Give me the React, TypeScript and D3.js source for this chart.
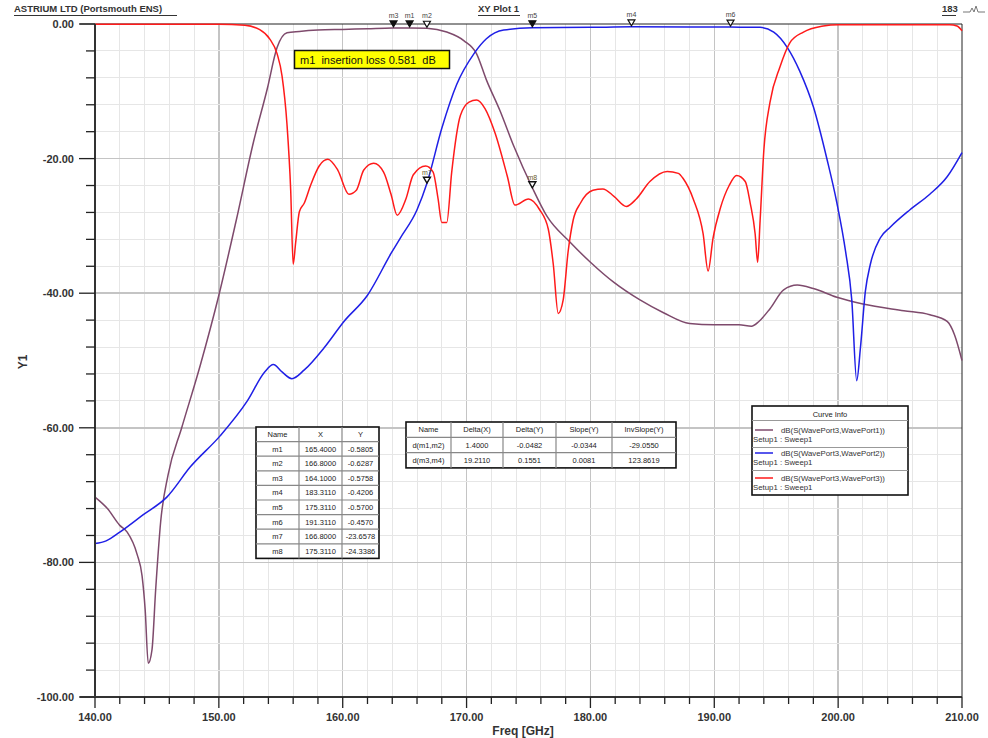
import React, { useEffect, useRef } from 'react';
import * as d3 from 'd3';

type Pt = [number, number];

// dB(S(WavePort3,WavePort1)) - purple
const S31_DB: Pt[] = [
  [140, -70.3], [141, -72], [142, -74.5], [142.6, -75.5], [143.4, -78.8], [143.8, -82], [144.05, -87],
  [144.3, -95], [144.6, -93], [144.9, -84], [145.3, -74], [145.9, -67], [147, -60], [148.5, -50.7],
  [150, -40.3], [151.4, -29.2], [152.8, -17.5], [153.9, -9.7], [154.7, -3.5], [155.5, -1.3],
  [156.5, -1.1], [158, -0.9], [160, -0.8], [162, -0.7], [164, -0.6], [165.4, -0.58], [166.8, -0.63],
  [168.4, -1.2], [169.8, -2.5], [170.8, -4.4], [171.6, -8.3], [172.7, -12.9], [173.8, -18.1],
  [175.3, -24.3], [176.5, -28.6], [178.4, -32.5], [180, -35.4], [181.9, -38.4], [184, -41],
  [185.9, -42.9], [188, -44.5], [190, -44.7], [192, -44.7], [193, -44.9], [193.6, -44.2],
  [194.5, -42.3], [195.6, -39.5], [196.7, -38.8], [198, -39.3], [199.9, -40.6], [202, -41.6],
  [205.3, -42.6], [207.4, -43.2], [208.8, -44.2], [209.4, -46.2], [210, -50],
];

// dB(S(WavePort3,WavePort2)) - blue
const S32_DB: Pt[] = [
  [140, -77.2], [140.9, -76.8], [142, -75.5], [143.9, -72.9], [145.8, -70.3], [147.7, -65.8],
  [150.1, -61.2], [152.3, -56], [153.7, -51.7], [154.4, -50.6], [155.1, -51.7], [155.9, -52.7],
  [156.9, -51.4], [158.5, -48.1], [160.1, -44.2], [162, -40.3], [163.9, -34.1], [164.65, -31.8],
  [166, -27.6], [166.8, -23.66], [168, -15.5], [169.2, -9], [170.6, -4.4], [171.6, -2.2], [173, -0.9],
  [175.3, -0.57], [180, -0.5], [183.3, -0.42], [188, -0.45], [191.3, -0.46], [193.7, -0.5],
  [194.8, -1.2], [195.9, -3.5], [196.9, -7], [198, -12.3], [199.1, -20.1], [199.9, -26.6],
  [200.6, -33.8], [201.1, -41], [201.5, -53], [201.8, -48.1], [202.2, -39.7], [202.6, -35.7],
  [203.4, -31.8], [204.2, -30.2], [205.8, -27.6], [207.4, -25.3], [208.8, -22.7], [210, -19.1],
];

// dB(S(WavePort3,WavePort3)) - red
const S33_DB: Pt[] = [
  [140, -0.05], [150, -0.05], [152.1, -0.2], [153.3, -0.85], [154.1, -2.2], [154.7, -4.4],
  [155.1, -7.7], [155.5, -14.9], [155.8, -24.7], [156, -35.7], [156.2, -32.5], [156.5, -27.9],
  [156.9, -26.6], [157.4, -24], [158.1, -21.1], [158.8, -20.1], [159.6, -21.7], [160.5, -25.3],
  [161.1, -24.7], [161.7, -21.7], [162.5, -20.7], [163.3, -22], [163.9, -25.3], [164.4, -28.4],
  [165.1, -26], [165.7, -22.4], [166.7, -21.1], [167.3, -22], [167.7, -26], [168, -29.5],
  [168.4, -29.5], [168.8, -22], [169.5, -13.6], [170.2, -11.6], [170.8, -11.3], [171.5, -12.6],
  [172.3, -16.2], [173.3, -22.7], [173.9, -26.9], [175, -26], [175.9, -27.6], [176.6, -30.5],
  [177, -35.7], [177.4, -43], [177.8, -41], [178.2, -33.8], [178.6, -29.2], [179.2, -26.6],
  [180.2, -24.7], [181, -24.5], [181.9, -25.6], [182.9, -27.1], [183.7, -26], [184.8, -23.4],
  [186.2, -21.9], [187.1, -22.2], [187.5, -23], [188.3, -26], [189.1, -31.2], [189.5, -36.7],
  [189.9, -31.8], [190.5, -27.3], [191.2, -24], [191.8, -22.5], [192.5, -23.4], [192.9, -26.6],
  [193.3, -31.2], [193.5, -35.4], [193.7, -29.2], [194, -18.8], [194.5, -11.6], [195.3, -6.4],
  [196.1, -2.8], [197.2, -1.2], [198.8, -0.3], [200, -0.1], [209, -0.1], [209.6, -0.3], [210, -1],
];

const CURVE_NAMES = ['dB(S(WavePort3,WavePort1))', 'dB(S(WavePort3,WavePort2))', 'dB(S(WavePort3,WavePort3))'];
const CURVE_COLORS = ['#7e4a6c', '#1f1fe6', '#ff1a1a'];
const CURVE_DATA = [S31_DB, S32_DB, S33_DB];

const TOP_MARKERS = [
  { name: 'm3', freq: 164.1, db: -0.5758, filled: true },
  { name: 'm1', freq: 165.4, db: -0.5805, filled: true },
  { name: 'm2', freq: 166.8, db: -0.6287, filled: false },
  { name: 'm5', freq: 175.311, db: -0.57, filled: true },
  { name: 'm4', freq: 183.311, db: -0.4206, filled: false },
  { name: 'm6', freq: 191.311, db: -0.457, filled: false },
];
const TRACE_MARKERS = [
  { name: 'm7', freq: 166.8, db: -23.6578 },
  { name: 'm8', freq: 175.311, db: -24.3386 },
];

const MARKER_HEAD = ['Name', 'X', 'Y'];
const MARKER_ROWS = [
  ['m1', '165.4000', '-0.5805'],
  ['m2', '166.8000', '-0.6287'],
  ['m3', '164.1000', '-0.5758'],
  ['m4', '183.3110', '-0.4206'],
  ['m5', '175.3110', '-0.5700'],
  ['m6', '191.3110', '-0.4570'],
  ['m7', '166.8000', '-23.6578'],
  ['m8', '175.3110', '-24.3386'],
];
const DELTA_HEAD = ['Name', 'Delta(X)', 'Delta(Y)', 'Slope(Y)', 'InvSlope(Y)'];
const DELTA_ROWS = [
  ['d(m1,m2)', '1.4000', '-0.0482', '-0.0344', '-29.0550'],
  ['d(m3,m4)', '19.2110', '0.1551', '0.0081', '123.8619'],
];

const W = 988;
const H = 738;
const FONT = '"Liberation Sans", Arial, sans-serif';

type Sel = d3.Selection<SVGGElement, unknown, null, undefined>;

function drawTable(g: Sel, x0: number, y0: number, cols: number[], rowH: number, rows: string[][]) {
  const t = g.append('g');
  const total = d3.sum(cols);
  const xs = [x0, ...d3.cumsum(cols).map(c => x0 + c)];
  t.append('rect').attr('x', x0).attr('y', y0).attr('width', total).attr('height', rowH * rows.length)
    .attr('fill', '#fff').attr('stroke', '#111').attr('stroke-width', 1.6);
  rows.forEach((row, i) => {
    if (i > 0) {
      t.append('line').attr('x1', x0).attr('x2', x0 + total).attr('y1', y0 + i * rowH).attr('y2', y0 + i * rowH)
        .attr('stroke', '#888').attr('stroke-width', 1.2);
    }
    row.forEach((cell, j) => {
      t.append('text').attr('x', (xs[j] + xs[j + 1]) / 2).attr('y', y0 + i * rowH + rowH / 2 + 2.6)
        .attr('text-anchor', 'middle').attr('font-size', 7.5).attr('fill', '#222').text(cell);
    });
  });
  xs.slice(1, -1).forEach(xx => {
    t.append('line').attr('x1', xx).attr('x2', xx).attr('y1', y0).attr('y2', y0 + rowH * rows.length)
      .attr('stroke', '#888').attr('stroke-width', 1.2);
  });
}

export default function App() {
  const svgRef = useRef<SVGSVGElement | null>(null);

  useEffect(() => {
    if (!svgRef.current) return;
    const svg = d3.select(svgRef.current);
    svg.selectAll('*').remove();

    const x = d3.scaleLinear().domain([140, 210]).range([95, 962]);
    const y = d3.scaleLinear().domain([-100, 0]).range([697, 24]);

    const g = svg.append('g').attr('font-family', FONT);

    // grid
    const grid = g.append('g').attr('shape-rendering', 'crispEdges');
    d3.range(142, 210, 2).forEach(f => {
      grid.append('line').attr('x1', x(f)).attr('x2', x(f)).attr('y1', y(0)).attr('y2', y(-100))
        .attr('stroke', f % 10 === 0 ? '#c4c4c4' : '#e6e6e6').attr('stroke-width', f % 10 === 0 ? 1.5 : 1);
    });
    d3.range(-96, 0, 4).forEach(v => {
      grid.append('line').attr('x1', x(140)).attr('x2', x(210)).attr('y1', y(v)).attr('y2', y(v))
        .attr('stroke', v % 20 === 0 ? '#c4c4c4' : '#e6e6e6').attr('stroke-width', v % 20 === 0 ? 1.5 : 1);
    });

    // frame
    g.append('line').attr('x1', 80).attr('x2', x(210)).attr('y1', y(0)).attr('y2', y(0)).attr('stroke', '#222');
    g.append('line').attr('x1', x(210)).attr('x2', x(210)).attr('y1', y(0)).attr('y2', y(-100)).attr('stroke', '#222');

    // curves
    const line = d3.line<Pt>().x(d => x(d[0])).y(d => y(d[1])).curve(d3.curveMonotoneX);
    const plot = g.append('g');
    CURVE_DATA.forEach((data, i) => {
      plot.append('path').attr('d', line(data) ?? '').attr('fill', 'none')
        .attr('stroke', CURVE_COLORS[i]).attr('stroke-width', 1.5);
    });

    // axes
    const yAxis = g.append('g').attr('transform', `translate(${x(140)},0)`);
    yAxis.append('line').attr('y1', y(0)).attr('y2', y(-100)).attr('stroke', '#333').attr('stroke-width', 2);
    d3.range(-100, 1, 4).forEach(v => {
      const major = v % 20 === 0;
      yAxis.append('line').attr('x1', major ? -16 : -9).attr('x2', 0).attr('y1', y(v)).attr('y2', y(v))
        .attr('stroke', '#222').attr('stroke-width', 1.3);
      if (major) {
        yAxis.append('text').attr('x', -21).attr('y', y(v) + 4).attr('text-anchor', 'end')
          .attr('font-size', 11).attr('font-weight', 'bold').attr('fill', '#333').text(v.toFixed(2));
      }
    });
    const xAxis = g.append('g').attr('transform', `translate(0,${y(-100)})`);
    xAxis.append('line').attr('x1', x(140) - 15).attr('x2', x(210)).attr('stroke', '#333').attr('stroke-width', 2);
    d3.range(140, 211, 2).forEach(f => {
      const major = f % 10 === 0;
      xAxis.append('line').attr('x1', x(f)).attr('x2', x(f)).attr('y1', 0).attr('y2', major ? 11 : 7)
        .attr('stroke', '#222').attr('stroke-width', 1.3);
      if (major) {
        xAxis.append('text').attr('x', x(f)).attr('y', 24).attr('text-anchor', 'middle')
          .attr('font-size', 11).attr('font-weight', 'bold').attr('fill', '#333').text(f.toFixed(2));
      }
    });
    g.append('text').attr('x', 523).attr('y', 735).attr('text-anchor', 'middle').attr('font-size', 12)
      .attr('font-weight', 'bold').attr('fill', '#333').text('Freq [GHz]');
    g.append('text').attr('transform', 'translate(27,362) rotate(-90)').attr('text-anchor', 'middle')
      .attr('font-size', 12).attr('font-weight', 'bold').attr('fill', '#333').text('Y1');

    // header texts
    const header = g.append('g').attr('font-size', 9.5).attr('font-weight', 'bold').attr('fill', '#333');
    header.append('text').attr('x', 14).attr('y', 12).text('ASTRIUM LTD (Portsmouth ENS)');
    header.append('line').attr('x1', 14).attr('x2', 177).attr('y1', 15.5).attr('y2', 15.5).attr('stroke', '#333');
    header.append('text').attr('x', 478).attr('y', 12).text('XY Plot 1');
    header.append('line').attr('x1', 478).attr('x2', 520).attr('y1', 15.5).attr('y2', 15.5).attr('stroke', '#333');
    header.append('text').attr('x', 942).attr('y', 12).text('183');
    header.append('line').attr('x1', 942).attr('x2', 956).attr('y1', 15.5).attr('y2', 15.5).attr('stroke', '#333');
    header.append('path').attr('d', 'M963,12 L970,12 L972,8 L974,12 L976,6 L978,12 L985,12')
      .attr('fill', 'none').attr('stroke', '#777').attr('stroke-width', 1);

    // markers
    const mk = g.append('g');
    TOP_MARKERS.forEach(m => {
      const px = x(m.freq);
      const py = y(m.db) - 1;
      mk.append('path').attr('d', `M${px - 3.5},${py - 6} L${px + 3.5},${py - 6} L${px},${py} Z`)
        .attr('fill', m.filled ? '#111' : '#fff').attr('stroke', '#111').attr('stroke-width', 1.2);
      mk.append('text').attr('x', px).attr('y', py - 9).attr('text-anchor', 'middle')
        .attr('font-size', 7).attr('fill', '#444').text(m.name);
    });
    TRACE_MARKERS.forEach(m => {
      const px = x(m.freq);
      const py = y(m.db);
      mk.append('path').attr('d', `M${px - 3.5},${py - 6} L${px + 3.5},${py - 6} L${px},${py} Z`)
        .attr('fill', '#fff').attr('stroke', '#111').attr('stroke-width', 1.4);
      mk.append('text').attr('x', px).attr('y', py - 8).attr('text-anchor', 'middle')
        .attr('font-size', 7).attr('fill', '#6a5a2a').text(m.name);
    });

    // annotation
    g.append('rect').attr('x', 294.5).attr('y', 50.5).attr('width', 155).attr('height', 18)
      .attr('fill', '#ffff00').attr('stroke', '#111').attr('stroke-width', 1.5);
    g.append('text').attr('x', 300).attr('y', 64).attr('font-size', 11).attr('fill', '#111')
      .attr('xml:space', 'preserve').text('m1  insertion loss 0.581  dB');

    // tables
    drawTable(g, 256, 427, [43, 43, 37], 14.6, [MARKER_HEAD, ...MARKER_ROWS]);
    drawTable(g, 406, 422, [45, 52, 53, 56, 64], 15.3, [DELTA_HEAD, ...DELTA_ROWS]);

    // curve info legend
    const lg = g.append('g');
    lg.append('rect').attr('x', 752).attr('y', 406).attr('width', 156).attr('height', 89)
      .attr('fill', '#fff').attr('stroke', '#111').attr('stroke-width', 1.6);
    lg.append('text').attr('x', 830).attr('y', 416.5).attr('text-anchor', 'middle').attr('font-size', 7.5)
      .attr('fill', '#222').text('Curve Info');
    [420.5, 447.5, 470.5].forEach(sy => {
      lg.append('line').attr('x1', 752).attr('x2', 908).attr('y1', sy).attr('y2', sy).attr('stroke', '#999');
    });
    const entryY = [430, 453, 478];
    CURVE_NAMES.forEach((name, i) => {
      const ey = entryY[i];
      lg.append('line').attr('x1', 755).attr('x2', 773).attr('y1', ey).attr('y2', ey)
        .attr('stroke', CURVE_COLORS[i]).attr('stroke-width', 1.5);
      lg.append('text').attr('x', 781).attr('y', ey + 2.5).attr('font-size', 7.8).attr('fill', '#333').text(name);
      lg.append('text').attr('x', 753).attr('y', ey + 11.5).attr('font-size', 7.8).attr('fill', '#333').text('Setup1 : Sweep1');
    });
  }, []);

  return (
    <svg ref={svgRef} width={W} height={H} style={{ position: 'absolute', left: 0, top: 0, background: '#fff' }} />
  );
}
